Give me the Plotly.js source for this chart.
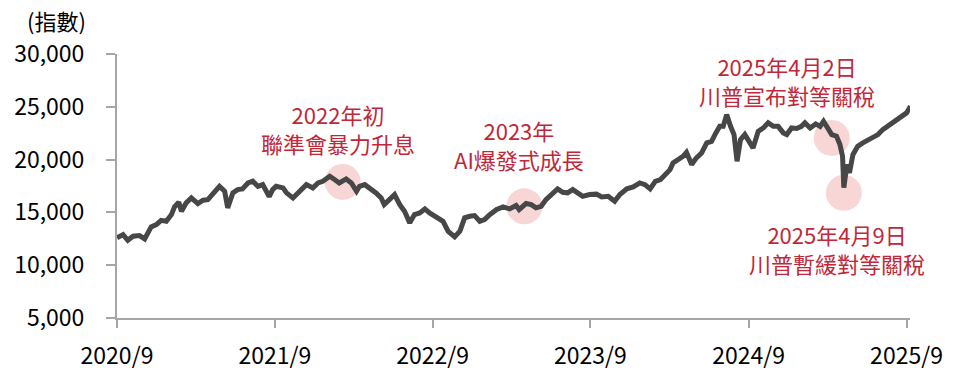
<!DOCTYPE html>
<html>
<head>
<meta charset="utf-8">
<script src="https://cdn.plot.ly/plotly-3.0.1.min.js"></script>
<style>html,body{margin:0;padding:0;background:#fff;}#chart{width:963px;height:372px;}</style>
</head>
<body>
<div id="chart"></div>
<script>
const dates = ["2020-09-01","2020-09-15","2020-09-26","2020-10-08","2020-10-23","2020-11-04","2020-11-19","2020-12-01","2020-12-12","2020-12-24",
"2021-01-05","2021-01-12","2021-01-22","2021-01-28","2021-02-08","2021-02-20","2021-03-07","2021-03-19","2021-03-30","2021-04-11",
"2021-04-26","2021-05-08","2021-05-15","2021-05-27","2021-06-07","2021-06-18","2021-07-01","2021-07-12","2021-07-24","2021-08-04",
"2021-08-19","2021-08-27","2021-09-04","2021-09-20","2021-09-28","2021-10-13","2021-10-28","2021-11-13","2021-11-28","2021-12-10",
"2021-12-21","2022-01-06","2022-01-17","2022-01-28","2022-02-13","2022-02-25","2022-03-09","2022-03-16","2022-03-28","2022-04-08",
"2022-04-23","2022-05-05","2022-05-12","2022-05-24","2022-06-05","2022-06-17","2022-06-28","2022-07-10","2022-07-21","2022-08-02",
"2022-08-14","2022-08-25","2022-09-10","2022-09-25","2022-10-07","2022-10-22","2022-11-03","2022-11-14","2022-11-26","2022-12-07",
"2022-12-19","2022-12-30","2023-01-11","2023-01-27","2023-02-11","2023-02-26","2023-03-13","2023-03-20","2023-04-05","2023-04-17",
"2023-04-28","2023-05-10","2023-05-21","2023-06-02","2023-06-17","2023-06-29","2023-07-10","2023-07-22","2023-08-03","2023-08-14",
"2023-08-30","2023-09-15","2023-09-27","2023-10-12","2023-10-27","2023-11-08","2023-11-24","2023-12-09","2023-12-24","2024-01-05",
"2024-01-17","2024-01-29","2024-02-10","2024-02-21","2024-03-03","2024-03-10","2024-03-22","2024-04-02","2024-04-10","2024-04-22",
"2024-05-03","2024-05-15","2024-05-27","2024-06-07","2024-06-17","2024-06-26","2024-07-04","2024-07-12","2024-07-21","2024-07-29",
"2024-08-05","2024-08-13","2024-08-23","2024-09-04","2024-09-11","2024-09-23","2024-10-05","2024-10-16","2024-10-28","2024-11-08",
"2024-11-20","2024-11-28","2024-12-09","2024-12-21","2025-01-01","2025-01-09","2025-01-21","2025-02-03","2025-02-13","2025-02-21",
"2025-03-04","2025-03-12","2025-03-23","2025-03-31","2025-04-06","2025-04-09","2025-04-16","2025-04-22","2025-04-30","2025-05-11",
"2025-05-23","2025-06-04","2025-06-15","2025-06-27","2025-07-08","2025-07-24","2025-08-09","2025-08-21","2025-09-01","2025-09-10"];
const values = [12590,12900,12360,12740,12800,12490,13630,13840,14250,14160,
14790,15520,15960,15100,15900,16370,15830,16150,16210,16850,
17470,17000,15430,16850,17160,17230,17790,17950,17470,17630,
16500,17160,17470,17320,16850,16370,17000,17630,17320,17790,
17950,18420,18110,17790,18170,17790,17000,17470,17630,17320,
16850,16370,15740,16210,16690,15740,15100,14010,14790,14950,
15330,14950,14480,14160,13210,12680,13210,14480,14630,14700,
14160,14320,14790,15270,15520,15330,15650,15270,15840,15740,
15430,15580,16210,16690,17230,16900,16850,17160,16850,16520,
16690,16730,16470,16520,16050,16690,17230,17410,17790,17630,
17230,17950,18110,18580,19050,19690,20000,20310,20690,19530,
20160,20630,21580,21730,22530,23150,23150,24260,23150,22370,
19840,21890,22370,21610,21110,22680,23000,23480,23150,23150,
22530,22370,23000,22940,23150,23480,23000,23380,23150,23630,
23000,22370,22210,21420,20310,17350,19530,18740,20470,21260,
21580,21890,22050,22370,22840,23310,23690,24100,24420,25050];

const tickDates = ["2020-09-01","2021-09-01","2022-09-01","2023-09-01","2024-09-01","2025-09-01"];
const tickLabels = ["2020/9","2021/9","2022/9","2023/9","2024/9","2025/9"];
const yTicks = [5000,10000,15000,20000,25000,30000];

const eventDates = ["2022-02-05","2023-04-01","2025-03-12","2025-04-09"];
const eventValues = [17890,15580,22050,16850];

const noteLines = [
  ["2022年初","聯準會暴力升息"],
  ["2023年","AI爆發式成長"],
  ["2025年4月2日","川普宣布對等關稅"],
  ["2025年4月9日","川普暫緩對等關稅"]
];
const yUnit = "(指數)";

// layout geometry (pixels)
const W = 963, H = 372, L = 117, R = 53, T = 54, B = 54;
const pw = W - L - R, ph = H - T - B;
const px = x => (x - L) / pw;
const py = y => (H - B - y) / ph;
const notePos = [[338,128.5],[518.5,144],[786.5,80],[837,248.5]];
const red = "#c0283a";
const font = "'Noto Sans CJK TC', 'Noto Sans', sans-serif";

const annotations = noteLines.map((lines, i) => ({
  xref:'paper', yref:'paper', x: px(notePos[i][0]), y: py(notePos[i][1]),
  xanchor:'center', yanchor:'middle', align:'center', showarrow:false, text:lines.join('<br>'),
  font:{family:font, size:22, color:red}
}));
annotations.push({xref:'paper', yref:'paper', x: px(56), y: py(20), xanchor:'center', yanchor:'middle',
  showarrow:false, text:yUnit, font:{family:font, size:22, color:'#000'}});

const shapes = eventDates.map((d, i) => ({
  type:'circle', xref:'x', yref:'y', xsizemode:'pixel', ysizemode:'pixel',
  xanchor:d, yanchor:eventValues[i], x0:-18, x1:18, y0:-18, y1:18,
  fillcolor:'#f8d6d6', line:{width:0}, layer:'below'
}));

const trace = {x:dates, y:values, type:'scatter', mode:'lines',
  line:{color:'#474747', width:5}, hoverinfo:'skip'};

const layout = {
  width:W, height:H, margin:{l:L, r:R, t:T, b:B},
  paper_bgcolor:'#fff', plot_bgcolor:'#fff', showlegend:false,
  font:{family:font, size:23, color:'#000'},
  xaxis:{type:'date', range:['2020-09-01','2025-09-09'], tickmode:'array', tickvals:tickDates, ticktext:tickLabels,
    showgrid:false, zeroline:false, showline:true, linecolor:'#a6a6a6', linewidth:2,
    ticks:'outside', ticklen:8, tickwidth:2, tickcolor:'#a6a6a6', ticklabelstandoff:8,
    tickfont:{family:font, size:23, color:'#000'}},
  yaxis:{range:[5000,30000], tickmode:'array', tickvals:yTicks, tickformat:',d',
    showgrid:false, zeroline:false, showline:true, linecolor:'#a6a6a6', linewidth:2,
    ticks:'outside', ticklen:9, tickwidth:2, tickcolor:'#a6a6a6', ticklabelstandoff:17,
    tickfont:{family:font, size:23, color:'#000'}},
  annotations:annotations, shapes:shapes
};
Plotly.newPlot('chart', [trace], layout, {staticPlot:true, displayModeBar:false});
</script>
</body>
</html>
